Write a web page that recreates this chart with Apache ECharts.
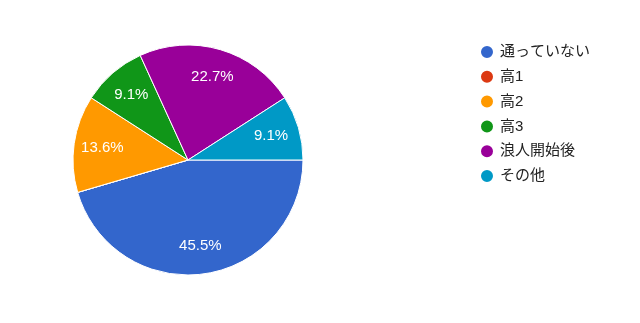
<!DOCTYPE html>
<html><head><meta charset="utf-8">
<script src="https://cdn.jsdelivr.net/npm/echarts@6/dist/echarts.min.js"></script>
<style>html,body{margin:0;padding:0;background:#fff}#c{width:640px;height:323px}</style>
</head><body><div id="c"></div>
<script>
const categories = ['通っていない', '高1', '高2', '高3', '浪人開始後', 'その他'];
const values = [10, 0, 3, 2, 5, 2];
const colors = ['#3366cc', '#dc3912', '#ff9900', '#109618', '#990099', '#0099c6'];

const data = categories.map((n, i) => ({ name: n, value: values[i] }));
const font = '"Liberation Sans", Arial, "Noto Sans CJK JP", sans-serif';
const chart = echarts.init(document.getElementById('c'), null, { renderer: 'canvas' });
chart.setOption({
  animation: false,
  color: colors,
  legend: {
    orient: 'vertical', left: 474, top: 39,
    icon: 'circle', itemWidth: 14, itemHeight: 14, itemGap: 8.8,
    data: categories,
    textStyle: { fontFamily: font, fontSize: 15, color: '#222', lineHeight: 13, padding: [0, 0, 0, 1] },
    selectedMode: false
  },
  series: [
    {
      type: 'pie', center: [188, 160], radius: 115, startAngle: 0, clockwise: true,
      data: data, silent: true, label: { show: false }, labelLine: { show: false },
      itemStyle: { borderColor: '#fff', borderWidth: 1 }
    },
    {
      type: 'pie', center: [188, 160], radius: [52, 115], startAngle: 0, clockwise: true,
      data: data, silent: true, percentPrecision: 1,
      itemStyle: { color: 'rgba(0,0,0,0)', borderWidth: 0 },
      label: {
        show: true, position: 'inside', color: '#fff', fontFamily: font, fontSize: 15,
        formatter: p => p.value > 0 ? p.percent.toFixed(1) + '%' : ''
      },
      labelLine: { show: false }
    }
  ]
});
</script></body></html>
